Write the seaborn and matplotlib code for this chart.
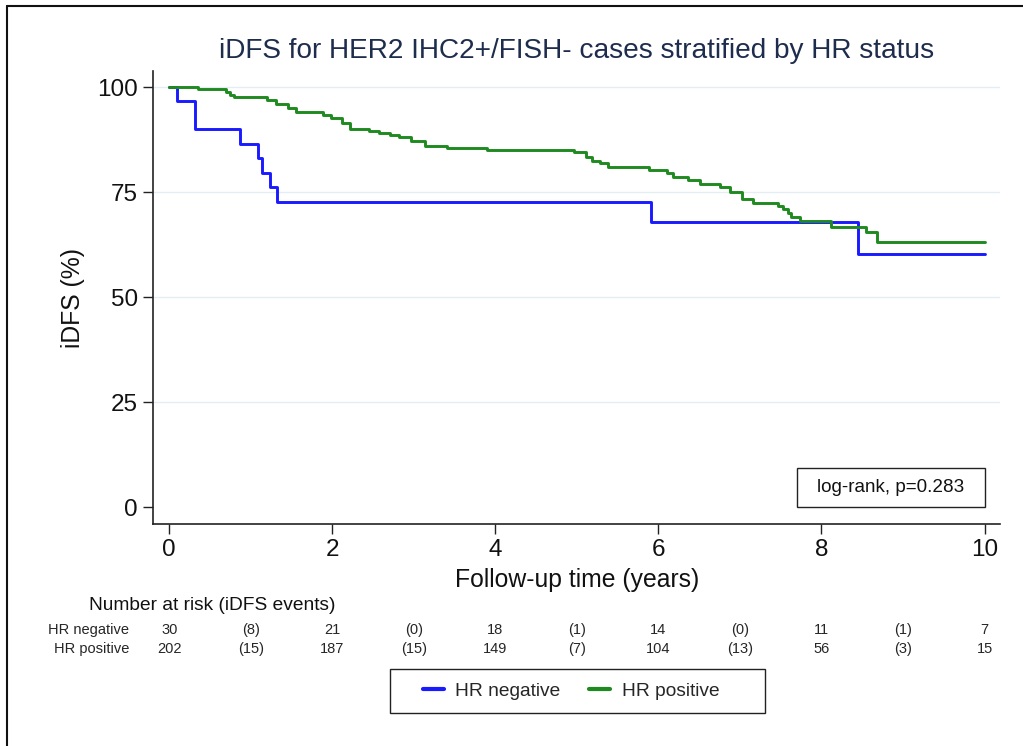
import matplotlib
matplotlib.use("Agg")
import matplotlib.pyplot as plt
import matplotlib.transforms as mtransforms
from matplotlib.patches import Rectangle
from matplotlib.lines import Line2D
import seaborn as sns
import pandas as pd

# ---------------- data ----------------
title = "iDFS for HER2 IHC2+/FISH- cases stratified by HR status"
group_names = ["HR negative", "HR positive"]

neg_time = [0, 0.09, 0.31, 0.87, 1.09, 1.14, 1.23, 1.32, 5.91, 8.45, 10.0]
neg_surv = [100, 96.7, 90.0, 86.6, 83.1, 79.6, 76.2, 72.8, 67.9, 60.3, 60.3]

pos_time = [0, 0.35, 0.70, 0.74, 0.79, 1.20, 1.31, 1.46, 1.55, 1.89, 1.98,
            2.12, 2.22, 2.45, 2.57, 2.71, 2.82, 2.96, 3.14, 3.41, 3.90,
            4.97, 5.11, 5.19, 5.28, 5.38, 5.89, 6.10, 6.18, 6.36, 6.51,
            6.75, 6.88, 7.02, 7.16, 7.47, 7.53, 7.59, 7.63, 7.74, 8.12,
            8.55, 8.68, 10.0]
pos_surv = [100, 99.5, 99.0, 98.3, 97.6, 97.1, 96.1, 95.2, 94.1, 93.5, 92.7,
            91.4, 90.1, 89.6, 89.2, 88.7, 88.2, 87.2, 86.1, 85.6, 85.0,
            84.5, 83.4, 82.5, 81.9, 81.1, 80.3, 79.5, 78.7, 77.9, 77.1,
            76.3, 75.1, 73.3, 72.5, 71.7, 71.0, 70.0, 69.2, 68.2, 66.8,
            65.5, 63.2, 63.2]

risk_times = [0, 2, 4, 6, 8, 10]
event_times = [1, 3, 5, 7, 9]
neg_at_risk = [30, 21, 18, 14, 11, 7]
neg_events = [8, 0, 1, 0, 1]
pos_at_risk = [202, 187, 149, 104, 56, 15]
pos_events = [15, 15, 7, 13, 3]

x_ticks = [0, 2, 4, 6, 8, 10]
y_ticks = [0, 25, 50, 75, 100]
logrank_text = "log-rank, p=0.283"

# ---------------- style ----------------
sns.set_theme(style="white")
plt.rcParams["font.family"] = ["Liberation Sans", "DejaVu Sans"]

colors = {"HR negative": "#1a1aff", "HR positive": "#1f8a1f"}

df = pd.concat([
    pd.DataFrame({"time": neg_time, "surv": neg_surv, "group": group_names[0]}),
    pd.DataFrame({"time": pos_time, "surv": pos_surv, "group": group_names[1]}),
])

W, H = 1023, 746
fig = plt.figure(figsize=(W / 100, H / 100), dpi=100)
ax = fig.add_axes([153.3 / W, 1 - 524 / H, (1000 - 153.3) / W, (524 - 71) / H])

for g in group_names:
    sub = df[df["group"] == g]
    sns.lineplot(data=sub, x="time", y="surv", ax=ax, color=colors[g],
                 drawstyle="steps-post", linewidth=2.1, estimator=None,
                 sort=False, legend=False, zorder=3)

ax.set_xlim(-0.196, 10.19)
ax.set_ylim(-3.98, 103.9)
ax.set_xticks(x_ticks)
ax.set_yticks(y_ticks)
ax.tick_params(axis="both", which="major", direction="out", length=7,
               width=1.0, color="#222222", labelsize=17.5, pad=4,
               left=True, bottom=True, labelcolor="#111111")
for s in ["top", "right"]:
    ax.spines[s].set_visible(False)
for s in ["left", "bottom"]:
    ax.spines[s].set_color("#222222")
    ax.spines[s].set_linewidth(1.2)
for yv in y_ticks[1:]:
    ax.axhline(yv, color="#e4edf1", linewidth=1.0, zorder=1)

ax.set_xlabel("Follow-up time (years)", fontsize=17.8, labelpad=5, color="#111111")
ax.set_ylabel("iDFS (%)", fontsize=17.8, labelpad=9, color="#111111")
ax.set_title(title, fontsize=20.2, color="#1e2d4d", pad=9)

# log-rank box
ax.add_patch(Rectangle((7.7, 0.0), 10.0 - 7.7, 9.3, facecolor="white",
                       edgecolor="#222222", linewidth=1.0, zorder=4))
ax.text((7.7 + 10.0) / 2, 4.65, logrank_text, ha="center", va="center",
        fontsize=13.6, color="#111111", zorder=5)

# number at risk table
tr = mtransforms.blended_transform_factory(ax.transData, fig.transFigure)
fig.text(212 / W, 1 - 606 / H, "Number at risk (iDFS events)", ha="center",
         va="center", fontsize=13.8, color="#111111")
y_neg = 1 - 630 / H
y_pos = 1 - 649 / H
fig.text(129 / W, y_neg, group_names[0], ha="right", va="center", fontsize=10.5)
fig.text(129 / W, y_pos, group_names[1], ha="right", va="center", fontsize=10.5)
for t, n in zip(risk_times, neg_at_risk):
    ax.text(t, y_neg, str(n), transform=tr, ha="center", va="center", fontsize=10.5)
for t, n in zip(risk_times, pos_at_risk):
    ax.text(t, y_pos, str(n), transform=tr, ha="center", va="center", fontsize=10.5)
for t, e in zip(event_times, neg_events):
    ax.text(t, y_neg, f"({e})", transform=tr, ha="center", va="center", fontsize=10.5)
for t, e in zip(event_times, pos_events):
    ax.text(t, y_pos, f"({e})", transform=tr, ha="center", va="center", fontsize=10.5)

# legend with manual frame
fig.patches.append(Rectangle((390 / W, 1 - 713 / H), (765 - 390) / W, 44 / H,
                             transform=fig.transFigure, facecolor="white",
                             edgecolor="#222222", linewidth=1.0))
handles = [Line2D([0], [0], color=colors[g], linewidth=3) for g in group_names]
fig.legend(handles, group_names, loc="center", bbox_to_anchor=(571 / W, 1 - 691 / H),
           ncol=2, frameon=False, fontsize=13.8, handlelength=1.1,
           handletextpad=0.6, columnspacing=1.5)

# outer border (left and top)
fig.add_artist(Line2D([7 / W, 7 / W], [0, 1 - 6 / H], transform=fig.transFigure,
                      color="#111111", linewidth=1.5))
fig.add_artist(Line2D([7 / W, 1], [1 - 6 / H, 1 - 6 / H], transform=fig.transFigure,
                      color="#111111", linewidth=1.5))

fig.savefig("out.png", dpi=100, facecolor="white")
